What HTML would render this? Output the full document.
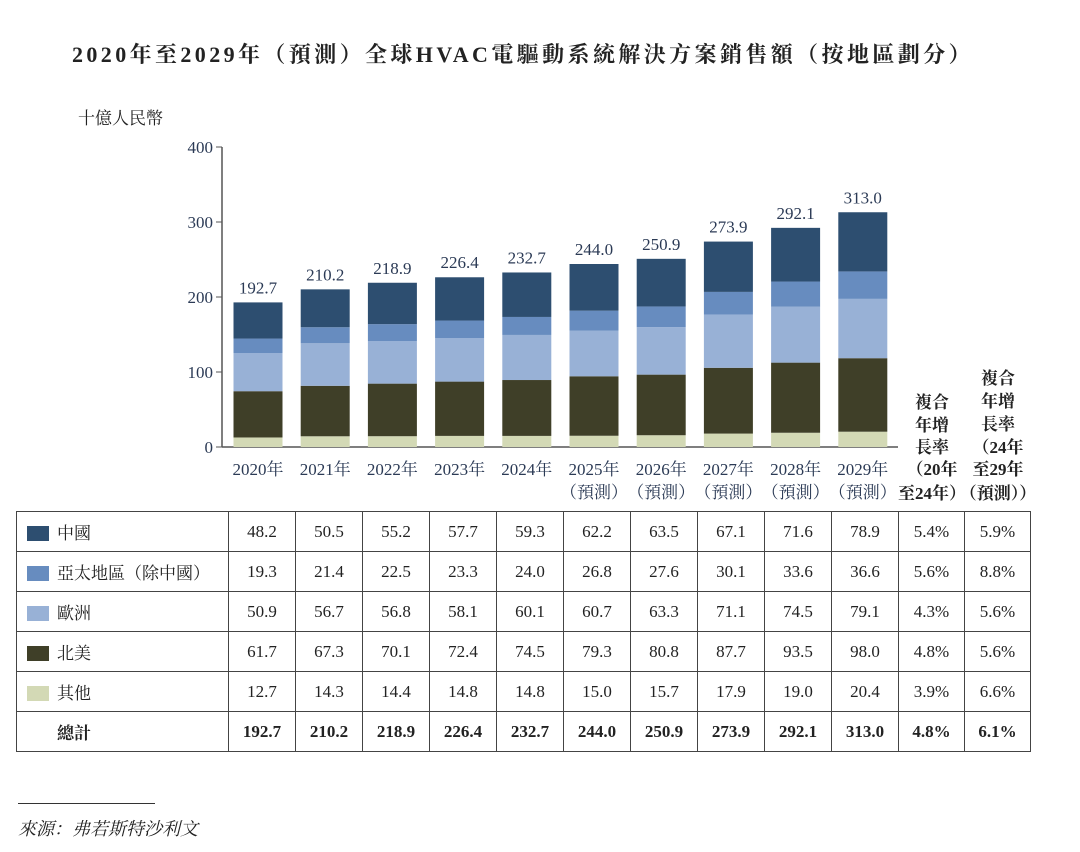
<!DOCTYPE html>
<html><head><meta charset="utf-8"><style>
body{margin:0;background:#fff;width:1080px;height:852px;overflow:hidden;position:relative;font-family:"Liberation Serif","Noto Serif CJK SC","Noto Sans CJK TC",serif;color:#222}
.t{position:absolute;white-space:nowrap}
table{position:absolute;left:16px;top:511px;border-collapse:collapse;font-size:17px;table-layout:fixed;width:1014px}
td{border:1px solid #444;height:39px;padding:0;text-align:center;overflow:hidden;white-space:nowrap}
td.l{text-align:left;padding-left:10px}
.sw{display:inline-block;width:22px;height:15px;vertical-align:-2px;margin-right:8px}
tr.tot td{font-weight:bold}
</style></head><body>
<div class="t" style="left:72px;top:38px;font-size:22px;font-weight:bold;letter-spacing:3.4px">2020年至2029年（預測）全球HVAC電驅動系統解決方案銷售額（按地區劃分）</div>
<div class="t" style="left:78px;top:104px;font-size:17px">十億人民幣</div>
<svg id="chart" width="1080" height="510" style="position:absolute;left:0;top:0"></svg>
<table id="tbl">
<colgroup><col style="width:212px"><col span="10" style="width:67px"><col span="2" style="width:66px"></colgroup>
</table>
<div style="position:absolute;left:18px;top:803px;width:137px;border-top:1px solid #333"></div>
<div class="t" style="left:18px;top:815px;font-size:18px;font-style:italic">來源：弗若斯特沙利文</div>
<script>
const years=["2020年","2021年","2022年","2023年","2024年","2025年","2026年","2027年","2028年","2029年"];
const yearSub=["","","","","","（預測）","（預測）","（預測）","（預測）","（預測）"];
const seriesNames=["中國","亞太地區（除中國）","歐洲","北美","其他"];
const colors=["#2d4e70","#678cbf","#98b1d6","#3f3f28","#d3d9b5"];
const china=[48.2,50.5,55.2,57.7,59.3,62.2,63.5,67.1,71.6,78.9];
const apac=[19.3,21.4,22.5,23.3,24.0,26.8,27.6,30.1,33.6,36.6];
const europe=[50.9,56.7,56.8,58.1,60.1,60.7,63.3,71.1,74.5,79.1];
const na=[61.7,67.3,70.1,72.4,74.5,79.3,80.8,87.7,93.5,98.0];
const other=[12.7,14.3,14.4,14.8,14.8,15.0,15.7,17.9,19.0,20.4];
const totals=[192.7,210.2,218.9,226.4,232.7,244.0,250.9,273.9,292.1,313.0];
const cagr1=["5.4%","5.6%","4.3%","4.8%","3.9%","4.8%"];
const cagr2=["5.9%","8.8%","5.6%","5.6%","6.6%","6.1%"];
const yTicks=[0,100,200,300,400];
const series=[china,apac,europe,na,other];
const NS="http://www.w3.org/2000/svg",svg=document.getElementById("chart");
const y0=447,k=0.75,x0=258,step=67.2,bw=49;
const Y=v=>y0-v*k, X=i=>x0+i*step;
function mk(t,a,txt){const e=document.createElementNS(NS,t);for(const n in a)e.setAttribute(n,a[n]);if(txt!=null)e.textContent=txt;svg.appendChild(e);return e;}
let ax=mk("line",{x1:222,y1:Y(400),x2:222,y2:y0,stroke:"#555","stroke-width":1.5});


let bx=mk("line",{x1:222,y1:y0,x2:898,y2:y0,stroke:"#555","stroke-width":1.5});


yTicks.forEach(v=>{
 let tk=mk("line",{x1:216,x2:222,y1:Y(v),y2:Y(v),stroke:"#555"});
 
 
 let tl=mk("text",{x:213,y:Y(v)+6,"text-anchor":"end","font-size":17,fill:"#2b3a55","font-family":"Liberation Serif"},v);
 
 
});
const order=[4,3,2,1,0];
years.forEach((yr,i)=>{
 let acc=0;
 order.forEach(s=>{const v=series[s][i];
  let r=mk("rect",{x:X(i)-bw/2,y:Y(acc+v),width:bw,height:v*k,fill:colors[s]});
  
  
  acc+=v;});
 let tl=mk("text",{x:X(i),y:Y(totals[i])-9,"text-anchor":"middle","font-size":17,fill:"#2b3a55","font-family":"Liberation Serif"},totals[i].toFixed(1));
 
 
 let xl=mk("text",{x:X(i),y:475,"text-anchor":"middle","font-size":17,fill:"#2b3a55"},yr);
 
 
 if(yearSub[i]){let s2=mk("text",{x:X(i),y:498,"text-anchor":"middle","font-size":17,fill:"#2b3a55"},yearSub[i]);
 
 }
});
const hdr1=[["複合",408],["年增",431],["長率",453],["（20年",475],["至24年）",499]];
const hdr2=[["複合",384],["年增",407],["長率",430],["（24年",453],["至29年",475],["（預測））",499]];
hdr1.forEach(h=>{let t=mk("text",{x:932,y:h[1],"text-anchor":"middle","font-size":17,"font-weight":"bold",fill:"#222"},h[0]);
 
 });
hdr2.forEach(h=>{let t=mk("text",{x:998,y:h[1],"text-anchor":"middle","font-size":17,"font-weight":"bold",fill:"#222"},h[0]);
 
 });
const tbl=document.getElementById("tbl");
const rows=[...series.map((s,r)=>({name:seriesNames[r],c:colors[r],v:s.map(x=>x.toFixed(1)),a:cagr1[r],b:cagr2[r]})),{name:"總計",v:totals.map(x=>x.toFixed(1)),a:cagr1[5],b:cagr2[5],tot:1}];
rows.forEach(r=>{
 const tr=document.createElement("tr");
 
 
 if(r.tot)tr.className="tot";
 let h='<td class="l">'+(r.c?'<span class="sw" style="background:'+r.c+'"></span>':'<span style="display:inline-block;width:30px"></span>')+r.name+'</td>';
 r.v.forEach(v=>h+='<td>'+v+'</td>');
 h+='<td>'+r.a+'</td><td>'+r.b+'</td>';
 tr.innerHTML=h;tbl.appendChild(tr);
});
</script>
</body></html>
